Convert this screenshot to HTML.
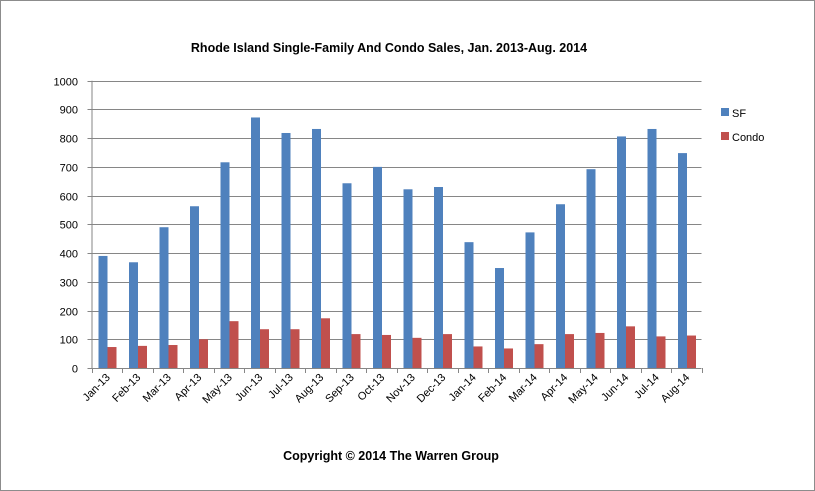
<!DOCTYPE html>
<html><head><meta charset="utf-8"><style>
html,body{margin:0;padding:0;background:#fff}
svg{display:block}
text{font-family:"Liberation Sans",Arial,sans-serif;fill:#000}
</style></head><body>
<svg width="815" height="491" viewBox="0 0 815 491" xmlns="http://www.w3.org/2000/svg">
<rect x="0.5" y="0.5" width="814" height="490" fill="#fff" stroke="#8c8c8c"/>
<text x="389" y="52" font-size="12.5" font-weight="bold" text-anchor="middle">Rhode Island Single-Family And Condo Sales, Jan. 2013-Aug. 2014</text>
<g id="grid" stroke="#868686" stroke-width="1"></g>
<g id="bars"></g>
<g id="labels" font-size="11"></g>
<rect x="721" y="108" width="8" height="8" fill="#4f81bd"/>
<text x="732" y="117" font-size="11">SF</text>
<rect x="721" y="132" width="8" height="8" fill="#c0504d"/>
<text x="732" y="141" font-size="11">Condo</text>
<text x="391" y="460" font-size="12.5" font-weight="bold" text-anchor="middle">Copyright  © 2014 The Warren Group</text>
<script>
var sf=[390,368,490,563,716,872,818,832,643,700,622,630,438,348,472,570,692,806,832,748];
var co=[73,77,80,100,163,135,135,173,118,115,105,118,75,68,83,118,122,145,110,113];
var lab=["Jan-13","Feb-13","Mar-13","Apr-13","May-13","Jun-13","Jul-13","Aug-13","Sep-13","Oct-13","Nov-13","Dec-13","Jan-14","Feb-14","Mar-14","Apr-14","May-14","Jun-14","Jul-14","Aug-14"];
var NS="http://www.w3.org/2000/svg";
function el(p,t,a,txt){var e=document.createElementNS(NS,t);for(var k in a)e.setAttribute(k,a[k]);if(txt)e.textContent=txt;document.getElementById(p).appendChild(e);}
var x0=91.5,x1=701.5,y0=368,s=0.2873,cw=(x1-x0)/20;
for(var i=0;i<=10;i++){var y=Math.round(y0-i*100*s)+0.5;
 el("grid","line",{x1:x0,x2:x1,y1:y,y2:y});
 el("grid","line",{x1:x0-4,x2:x0,y1:y,y2:y});
 el("labels","text",{x:78,y:y+4,"text-anchor":"end"},String(i*100));}
el("grid","line",{x1:x0+0.5,x2:x0+0.5,y1:y0-1000*s,y2:y0+0.5});
for(var i=0;i<=20;i++){var x=Math.round(x0+i*cw)+0.5;el("grid","line",{x1:x,x2:x,y1:y0,y2:y0+5});}
for(var i=0;i<20;i++){var cx=x0+i*cw;
 el("bars","rect",{x:cx+7,y:y0-sf[i]*s,width:9,height:sf[i]*s,fill:"#4f81bd"});
 el("bars","rect",{x:cx+16,y:y0-co[i]*s,width:9,height:co[i]*s,fill:"#c0504d"});
 var lx=cx+cw/2+4,ly=y0+10;
 el("labels","text",{x:lx,y:ly,"text-anchor":"end",transform:"rotate(-45 "+lx+" "+ly+")"},lab[i]);}
</script>
</svg>
</body></html>
